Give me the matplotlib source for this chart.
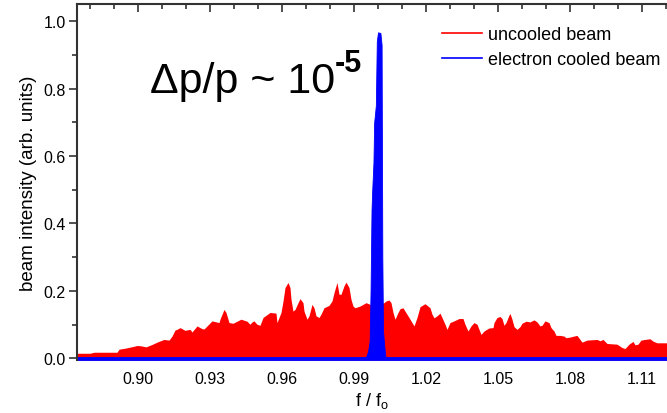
import matplotlib
matplotlib.use("Agg")
import matplotlib.pyplot as plt
from matplotlib.lines import Line2D
from matplotlib.ticker import MultipleLocator

plt.rcParams["font.family"] = ["Liberation Sans", "DejaVu Sans"]

# uncooled beam spectrum (f/f0, intensity)
red_f = [0.87458, 0.8800, 0.88167, 0.89125, 0.89208, 0.89458, 0.89792, 0.89958,
         0.90125, 0.90333, 0.90583, 0.90792, 0.91083, 0.91292, 0.91417, 0.91542,
         0.91625, 0.9175, 0.91958, 0.92167, 0.9225, 0.92458, 0.92667, 0.9275,
         0.93083, 0.93375, 0.93417, 0.93583, 0.93667, 0.93792, 0.93958, 0.94292,
         0.94542, 0.94667, 0.9475, 0.94833, 0.94958, 0.95083, 0.95208, 0.955,
         0.9575, 0.95792, 0.95958, 0.96042, 0.96125, 0.9625, 0.96333, 0.96375,
         0.96458, 0.96542, 0.96667, 0.9675, 0.96875, 0.96917, 0.97042, 0.97125,
         0.9725, 0.97333, 0.97417, 0.97542, 0.97625, 0.9775, 0.97958, 0.98083,
         0.98167, 0.98292, 0.98375, 0.98458, 0.98583, 0.98667, 0.98792, 0.98875,
         0.98958, 0.99042, 0.9925, 0.995, 0.99667, 1.0000, 1.0025, 1.00333,
         1.00458, 1.00542, 1.00625, 1.00708, 1.00833, 1.00917, 1.01042, 1.01125,
         1.01292, 1.01417, 1.015, 1.01625, 1.0175, 1.01958, 1.02167, 1.0225,
         1.02333, 1.02458, 1.02583, 1.02667, 1.02792, 1.02875, 1.03, 1.03167,
         1.03375, 1.03542, 1.03625, 1.0375, 1.03875, 1.04, 1.04125, 1.04292,
         1.04417, 1.04625, 1.04792, 1.04833, 1.04958, 1.05083, 1.05167, 1.0525,
         1.05333, 1.05458, 1.055, 1.05583, 1.05667, 1.05792, 1.05917, 1.06,
         1.06167, 1.06333, 1.065, 1.06625, 1.0675, 1.06833, 1.06958, 1.07125,
         1.07208, 1.07333, 1.07417, 1.07583, 1.0775, 1.07833, 1.08, 1.08167,
         1.08292, 1.085, 1.08708, 1.09125, 1.0925, 1.09375, 1.09542, 1.09958,
         1.10167, 1.10292, 1.10458, 1.10625, 1.10708, 1.10833, 1.10958, 1.11125,
         1.11333, 1.11458, 1.11625, 1.12042]
red_i = [0.015, 0.015, 0.018, 0.018, 0.027, 0.030, 0.035, 0.038,
         0.037, 0.034, 0.041, 0.048, 0.056, 0.054, 0.066, 0.084,
         0.086, 0.091, 0.083, 0.086, 0.078, 0.096, 0.088, 0.087,
         0.111, 0.106, 0.116, 0.145, 0.136, 0.106, 0.104, 0.116,
         0.110, 0.101, 0.108, 0.111, 0.101, 0.098, 0.121, 0.136,
         0.134, 0.106, 0.136, 0.170, 0.210, 0.225, 0.210, 0.175,
         0.140, 0.145, 0.165, 0.177, 0.165, 0.140, 0.116, 0.126,
         0.160, 0.150, 0.126, 0.121, 0.131, 0.150, 0.157, 0.170,
         0.195, 0.225, 0.190, 0.190, 0.215, 0.226, 0.210, 0.175,
         0.155, 0.150, 0.155, 0.165, 0.160, 0.162, 0.165, 0.170,
         0.173, 0.165, 0.136, 0.116, 0.136, 0.147, 0.150, 0.140,
         0.121, 0.106, 0.096, 0.121, 0.153, 0.162, 0.150, 0.131,
         0.120, 0.126, 0.134, 0.121, 0.101, 0.086, 0.106, 0.111,
         0.118, 0.118, 0.101, 0.081, 0.096, 0.106, 0.101, 0.071,
         0.081, 0.090, 0.091, 0.106, 0.121, 0.124, 0.118, 0.098,
         0.106, 0.128, 0.133, 0.116, 0.094, 0.086, 0.094, 0.104,
         0.110, 0.108, 0.114, 0.108, 0.096, 0.098, 0.111, 0.106,
         0.091, 0.081, 0.068, 0.068, 0.066, 0.061, 0.063, 0.066,
         0.068, 0.048, 0.054, 0.056, 0.052, 0.056, 0.044, 0.042,
         0.032, 0.029, 0.042, 0.050, 0.040, 0.042, 0.054, 0.056,
         0.058, 0.051, 0.046, 0.046]

# electron cooled beam
blue_f = [0.87458, 0.9950, 0.99583, 0.9965, 0.9969, 0.9973, 0.9976, 0.9981,
          0.9984, 0.9991, 0.9995, 1.0000, 1.0010, 1.0015, 1.0018, 1.0021,
          1.0027, 1.0031, 1.12042]
blue_i = [0.004, 0.004, 0.02, 0.05, 0.20, 0.44, 0.50, 0.58,
          0.70, 0.75, 0.94, 0.967, 0.965, 0.93, 0.30, 0.08,
          0.03, 0.004, 0.004]

x_ticks = [0.90, 0.93, 0.96, 0.99, 1.02, 1.05, 1.08, 1.11]
y_ticks = [0.0, 0.2, 0.4, 0.6, 0.8, 1.0]

ymin, ymax = -0.005, 1.051

fig = plt.figure(figsize=(6.67, 4.14), dpi=100)
ax = fig.add_axes([77 / 667, 53 / 414, 590 / 667, 356 / 414])

ax.fill_between(red_f, ymin, red_i, color="#ff0000", linewidth=0)
ax.fill_between(blue_f, ymin, blue_i, color="#0000ff", linewidth=0.6, edgecolor="#0000ff")

ax.set_xlim(red_f[0], red_f[-1])
ax.set_ylim(ymin, ymax)

ax.spines["right"].set_visible(False)
ax.spines["bottom"].set_visible(False)
for s in ("left", "top"):
    ax.spines[s].set_linewidth(1.5)
    ax.spines[s].set_color("#333333")

ax.set_xticks(x_ticks)
ax.set_xticklabels([f"{v:.2f}" for v in x_ticks])
ax.xaxis.set_minor_locator(MultipleLocator(0.01))
ax.set_yticks(y_ticks)
ax.set_yticklabels([f"{v:.1f}" for v in y_ticks])
ax.yaxis.set_minor_locator(MultipleLocator(0.1))

ax.tick_params(axis="x", which="both", direction="in", top=True, bottom=False,
               labelbottom=True, labeltop=False, labelsize=11.5, pad=8,
               color="#333333", width=1.2)
ax.tick_params(axis="x", which="major", length=6)
ax.tick_params(axis="x", which="minor", length=3.5)
ax.tick_params(axis="y", which="both", direction="out", labelsize=11.5,
               color="#333333", width=1.2, pad=2)
ax.tick_params(axis="y", which="major", length=6)
ax.tick_params(axis="y", which="minor", length=3.5)

ax.set_ylabel("beam intensity (arb. units)", fontsize=13.5, labelpad=5)
ax.set_xlabel(r"f / f$_\mathregular{o}$", fontsize=13, labelpad=3)

fig.text(150 / 667, 1 - 93 / 414, "Δp/p ~ 10", fontsize=31, va="baseline", ha="left")
fig.text(335 / 667, 1 - 72 / 414, "-5", fontsize=22, fontweight="bold",
         va="baseline", ha="left")

handles = [Line2D([], [], color="#ff0000", lw=1.2),
           Line2D([], [], color="#0000ff", lw=1.2)]
fig.legend(handles, ["uncooled beam", "electron cooled beam"],
           loc="upper left", bbox_to_anchor=(442 / 667, 1 - 27 / 414),
           frameon=False, fontsize=13, borderpad=0, borderaxespad=0,
           handlelength=2.2, handletextpad=0.35, labelspacing=0.45)

fig.savefig("out.png", dpi=100)
